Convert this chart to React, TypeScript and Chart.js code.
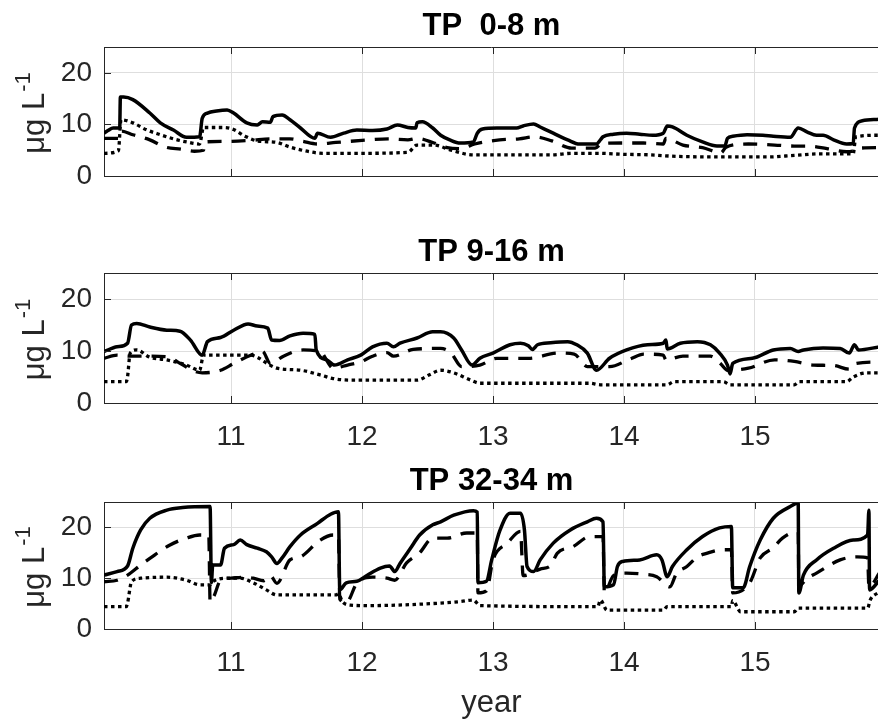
import React, { useEffect, useRef } from 'react';
import { Chart, registerables } from 'chart.js';

Chart.register(...registerables);

// ---------- data ----------
const X_MIN = 10.03;
const X_MAX = 15.947;
const X_TICKS = [11, 12, 13, 14, 15];
const Y_TICKS = [0, 10, 20];
const Y_MAX = 25;
const TITLES = ['TP  0-8 m', 'TP 9-16 m', 'TP 32-34 m'];
const X_LABEL = 'year';
const Y_LABEL_MAIN = '\u03bcg L';
const Y_LABEL_SUP = '-1';

// TP 0-8 m
const p1Solid = [
  [10.03, 8.3], [10.06, 8.8], [10.10, 9.3], [10.15, 9.3], [10.155, 15.3], [10.18, 15.3], [10.25, 14.8],
  [10.38, 12.2], [10.46, 10.3], [10.56, 8.9], [10.66, 7.5], [10.76, 7.6], [10.78, 11.2], [10.82, 12.2],
  [10.89, 12.6], [10.97, 12.8], [11.02, 12.2], [11.12, 10.3], [11.20, 9.9], [11.24, 10.5], [11.30, 10.4],
  [11.32, 11.5], [11.39, 11.8], [11.45, 10.9], [11.53, 9.3], [11.64, 7.3], [11.66, 8.3], [11.76, 7.5],
  [11.86, 8.3], [11.96, 8.9], [12.08, 8.8], [12.19, 9.1], [12.27, 9.9], [12.35, 9.4], [12.41, 9.3],
  [12.42, 10.3], [12.46, 10.5], [12.54, 9.3], [12.60, 7.9], [12.67, 7.0], [12.75, 6.4], [12.85, 6.6],
  [12.88, 8.3], [12.92, 9.1], [13.03, 9.3], [13.18, 9.3], [13.23, 9.7], [13.31, 10.1], [13.36, 9.5],
  [13.46, 8.3], [13.57, 7.0], [13.66, 6.2], [13.79, 6.2], [13.82, 7.0], [13.84, 7.6], [13.92, 8.1],
  [14.02, 8.3], [14.12, 8.1], [14.22, 7.9], [14.30, 8.3], [14.33, 9.7], [14.37, 9.5], [14.48, 7.9],
  [14.60, 6.6], [14.71, 5.8], [14.77, 5.8], [14.79, 7.3], [14.83, 7.7], [14.94, 8.0], [15.06, 7.9],
  [15.14, 7.7], [15.27, 7.5], [15.33, 9.3], [15.40, 8.5], [15.47, 7.9], [15.52, 7.9], [15.60, 7.0],
  [15.70, 6.2], [15.75, 6.3], [15.76, 9.3], [15.82, 10.7], [15.95, 11.0],
];
const p1Dashed = [
  [10.03, 7.3], [10.15, 7.3], [10.16, 8.7], [10.25, 8.0], [10.38, 7.0], [10.50, 5.6], [10.62, 5.2],
  [10.72, 4.8], [10.79, 5.0], [10.80, 6.6], [10.95, 6.7], [11.15, 6.9], [11.30, 7.2], [11.45, 7.2],
  [11.55, 6.7], [11.66, 6.2], [11.80, 6.5], [12.00, 6.9], [12.20, 7.2], [12.35, 7.0], [12.42, 7.3],
  [12.55, 6.4], [12.65, 5.5], [12.75, 5.3], [12.86, 6.2], [13.05, 7.0], [13.20, 7.2], [13.32, 7.6],
  [13.45, 6.8], [13.60, 5.4], [13.78, 5.4], [13.83, 6.3], [14.00, 6.4], [14.15, 6.4], [14.30, 6.2],
  [14.32, 7.3], [14.45, 6.0], [14.60, 5.5], [14.74, 4.5], [14.78, 5.6], [14.95, 6.2], [15.15, 6.0],
  [15.30, 5.8], [15.40, 5.8], [15.55, 5.3], [15.70, 4.7], [15.76, 4.9], [15.80, 5.4], [15.95, 5.5],
];
const p1Dotted = [
  [10.03, 4.4], [10.14, 4.9], [10.16, 10.9], [10.25, 10.3], [10.35, 9.0], [10.46, 8.0], [10.56, 7.2],
  [10.66, 6.6], [10.76, 6.2], [10.79, 9.4], [10.95, 9.4], [11.02, 9.0], [11.10, 7.8], [11.20, 6.8],
  [11.35, 6.5], [11.45, 5.6], [11.60, 4.7], [11.70, 4.4], [12.00, 4.4], [12.35, 4.6], [12.42, 6.0],
  [12.55, 6.0], [12.68, 5.0], [12.85, 4.1], [13.20, 4.1], [13.45, 4.1], [13.60, 4.4], [13.80, 4.4],
  [14.00, 4.2], [14.20, 4.1], [14.40, 3.8], [14.80, 3.7], [15.10, 3.7], [15.30, 4.0], [15.50, 4.3],
  [15.75, 4.3], [15.77, 7.6], [15.95, 7.9],
];

// TP 9-16 m
const p2Solid = [
  [10.03, 9.9], [10.13, 10.8], [10.21, 11.5], [10.24, 15.0], [10.28, 15.3], [10.38, 14.6], [10.51, 14.0],
  [10.61, 13.8], [10.69, 12.1], [10.78, 9.2], [10.82, 11.8], [10.92, 12.6], [11.02, 14.0], [11.13, 15.2],
  [11.20, 14.8], [11.28, 14.4], [11.31, 12.1], [11.37, 12.0], [11.45, 12.9], [11.55, 13.4], [11.64, 13.2],
  [11.65, 10.2], [11.73, 8.3], [11.79, 7.3], [11.89, 8.3], [11.99, 9.2], [12.08, 10.8], [12.19, 11.5],
  [12.24, 10.8], [12.29, 11.5], [12.42, 12.5], [12.54, 13.7], [12.60, 13.7], [12.70, 12.5], [12.76, 10.2],
  [12.84, 7.3], [12.90, 8.6], [13.00, 9.6], [13.13, 11.2], [13.21, 11.5], [13.27, 11.0], [13.30, 10.3],
  [13.34, 11.2], [13.44, 11.6], [13.57, 11.8], [13.64, 11.2], [13.72, 9.6], [13.79, 6.3], [13.89, 8.6],
  [14.02, 10.2], [14.18, 11.2], [14.30, 11.5], [14.32, 12.1], [14.33, 10.4], [14.43, 11.5], [14.56, 11.8],
  [14.66, 11.2], [14.73, 9.6], [14.79, 7.3], [14.81, 5.6], [14.83, 7.6], [14.98, 8.6], [15.14, 10.2],
  [15.27, 10.5], [15.33, 9.9], [15.37, 10.2], [15.52, 10.6], [15.65, 10.5], [15.72, 9.6], [15.76, 11.2],
  [15.79, 10.2], [15.95, 10.8],
];
const p2Dashed = [
  [10.03, 8.6], [10.13, 9.2], [10.22, 9.0], [10.35, 9.0], [10.50, 8.9], [10.62, 7.5], [10.70, 6.3],
  [10.78, 5.8], [10.92, 6.3], [11.02, 7.6], [11.15, 9.2], [11.24, 9.9], [11.30, 7.6], [11.40, 9.0],
  [11.55, 10.2], [11.68, 9.9], [11.78, 6.7], [11.89, 7.3], [11.99, 7.9], [12.08, 9.0], [12.19, 9.7],
  [12.24, 9.0], [12.39, 10.3], [12.60, 10.5], [12.68, 9.6], [12.76, 7.0], [12.90, 7.3], [13.03, 8.6],
  [13.27, 8.6], [13.50, 9.6], [13.62, 9.4], [13.72, 7.0], [13.89, 7.0], [14.05, 8.5], [14.15, 9.4],
  [14.30, 9.2], [14.32, 8.3], [14.45, 9.0], [14.66, 9.0], [14.74, 7.5], [14.79, 6.3], [14.95, 6.7],
  [15.15, 8.3], [15.30, 8.0], [15.45, 7.3], [15.60, 7.2], [15.72, 6.5], [15.77, 7.6], [15.95, 7.9],
];
const p2Dotted = [
  [10.03, 4.1], [10.20, 4.1], [10.21, 5.1], [10.23, 9.6], [10.28, 10.2], [10.38, 8.8], [10.51, 8.3],
  [10.66, 7.3], [10.76, 6.3], [10.79, 9.2], [11.15, 9.2], [11.20, 8.8], [11.27, 7.7], [11.35, 6.7],
  [11.53, 6.3], [11.68, 5.4], [11.78, 4.7], [11.91, 4.4], [12.42, 4.4], [12.52, 5.5], [12.60, 6.3],
  [12.70, 5.8], [12.83, 4.4], [12.90, 3.8], [13.74, 3.8], [13.82, 3.5], [14.33, 3.5], [14.38, 4.1],
  [14.76, 4.1], [14.81, 3.5], [15.30, 3.5], [15.34, 4.1], [15.70, 4.1], [15.75, 5.0], [15.85, 5.8],
  [15.95, 5.8],
];

// TP 32-34 m
const p3Solid = [
  [10.03, 10.6], [10.13, 11.3], [10.21, 12.4], [10.25, 15.9], [10.31, 19.5], [10.38, 21.8], [10.51, 23.4],
  [10.63, 23.9], [10.84, 24.1], [10.85, 9.1], [10.86, 12.6], [10.92, 12.6], [10.95, 15.9], [11.02, 16.6],
  [11.07, 17.5], [11.12, 16.6], [11.20, 15.9], [11.27, 15.2], [11.31, 14.2], [11.35, 12.9], [11.39, 14.0],
  [11.45, 16.2], [11.53, 18.5], [11.66, 20.8], [11.76, 22.6], [11.82, 23.1], [11.83, 7.7], [11.88, 9.1],
  [11.96, 9.4], [12.04, 10.6], [12.14, 12.0], [12.21, 12.4], [12.25, 11.3], [12.29, 12.9], [12.37, 15.9],
  [12.44, 18.5], [12.54, 20.5], [12.60, 21.1], [12.70, 22.4], [12.85, 23.3], [12.88, 23.0], [12.885, 9.1],
  [12.95, 9.4], [12.99, 13.6], [13.05, 19.2], [13.13, 22.8], [13.21, 22.8], [13.24, 19.5], [13.26, 12.3],
  [13.31, 11.3], [13.36, 13.6], [13.46, 16.9], [13.59, 19.5], [13.72, 21.1], [13.79, 21.8], [13.84, 21.1],
  [13.85, 8.3], [13.92, 8.7], [13.95, 12.3], [13.99, 13.3], [14.12, 13.6], [14.25, 14.6], [14.29, 13.6],
  [14.33, 10.3], [14.37, 12.3], [14.48, 15.6], [14.60, 18.2], [14.73, 19.9], [14.82, 20.2], [14.83, 8.1],
  [14.91, 8.1], [14.96, 12.3], [15.04, 17.5], [15.14, 21.8], [15.27, 24.1], [15.33, 24.8], [15.335, 7.1],
  [15.37, 10.6], [15.47, 13.6], [15.60, 15.9], [15.75, 17.5], [15.86, 18.5], [15.87, 23.4], [15.875, 7.7],
  [15.95, 9.6],
];
const p3Dashed = [
  [10.03, 9.3], [10.13, 9.6], [10.21, 10.6], [10.31, 12.6], [10.38, 13.9], [10.53, 16.5], [10.66, 17.9],
  [10.76, 18.5], [10.83, 18.5], [10.84, 5.3], [10.87, 6.5], [10.92, 9.6], [11.00, 10.0], [11.10, 10.2],
  [11.17, 10.0], [11.25, 9.5], [11.30, 10.5], [11.35, 9.0], [11.45, 13.6], [11.53, 14.2], [11.68, 17.5],
  [11.78, 18.5], [11.82, 18.5], [11.83, 5.9], [11.88, 5.2], [11.96, 9.0], [12.08, 10.2], [12.19, 10.0],
  [12.25, 9.6], [12.34, 13.0], [12.44, 15.0], [12.54, 17.9], [12.65, 17.9], [12.80, 18.9], [12.88, 18.9],
  [12.885, 7.1], [12.95, 7.5], [13.00, 13.6], [13.11, 16.9], [13.21, 19.2], [13.23, 10.5], [13.36, 11.8],
  [13.44, 12.5], [13.49, 14.9], [13.61, 16.2], [13.74, 18.2], [13.84, 18.2], [13.85, 7.1], [13.92, 10.5],
  [14.02, 11.0], [14.14, 10.8], [14.25, 10.3], [14.35, 8.3], [14.40, 10.9], [14.48, 12.3], [14.56, 14.2],
  [14.63, 14.9], [14.75, 15.6], [14.82, 15.6], [14.83, 7.1], [14.96, 9.1], [15.04, 14.0], [15.14, 16.0],
  [15.21, 17.9], [15.33, 19.2], [15.335, 8.5], [15.40, 10.0], [15.47, 11.0], [15.65, 13.6], [15.78, 14.2],
  [15.86, 14.0], [15.87, 8.3], [15.95, 11.0],
];
const p3Dotted = [
  [10.03, 4.4], [10.20, 4.4], [10.21, 5.1], [10.24, 9.3], [10.31, 10.0], [10.51, 10.2], [10.66, 9.6],
  [10.76, 8.7], [10.84, 8.7], [10.86, 9.3], [10.97, 10.0], [11.07, 10.0], [11.17, 9.1], [11.27, 7.7],
  [11.35, 6.7], [11.80, 6.7], [11.82, 6.9], [11.85, 5.4], [11.91, 4.7], [12.04, 4.6], [12.60, 5.1],
  [12.75, 5.4], [12.85, 5.7], [12.90, 4.6], [13.80, 4.4], [13.82, 5.7], [13.87, 3.7], [14.30, 3.7],
  [14.33, 4.4], [14.82, 4.4], [14.83, 5.6], [14.89, 3.4], [15.30, 3.4], [15.33, 4.1], [15.86, 4.1],
  [15.88, 5.7], [15.95, 7.3],
];

// ---------- styling / layout ----------
const FONT = '"Liberation Sans", Arial, Helvetica, sans-serif';
const AXIS_COLOR = '#262626';
const GRID_COLOR = '#dedede';
const TICK_FONT_SIZE = 28;
const LABEL_FONT_SIZE = 31;

const PANELS = [
  { title: TITLES[0], top: 0, height: 200, padTop: 47, xAxisH: 24, showX: false, xlabel: '', series: [p1Solid, p1Dashed, p1Dotted] },
  { title: TITLES[1], top: 200, height: 260, padTop: 73, xAxisH: 57, showX: true, xlabel: '', series: [p2Solid, p2Dashed, p2Dotted] },
  { title: TITLES[2], top: 460, height: 259, padTop: 42, xAxisH: 90, showX: true, xlabel: X_LABEL, series: [p3Solid, p3Dashed, p3Dotted] },
];

const DASHES = [[], [14, 10], [3.5, 3.5]];

const framePlugin = {
  id: 'matlabFrame',
  afterDraw(chart: any, _args: any, opts: any) {
    const { ctx, chartArea } = chart;
    const { left, right, top, bottom } = chartArea;
    const xs = chart.scales.x;
    const ys = chart.scales.y;
    ctx.save();
    // top border
    ctx.strokeStyle = AXIS_COLOR;
    ctx.lineWidth = 1;
    ctx.beginPath();
    ctx.moveTo(left, Math.round(top) + 0.5);
    ctx.lineTo(right, Math.round(top) + 0.5);
    // inward tick marks
    const TL = 7;
    X_TICKS.forEach((v) => {
      const px = Math.round(xs.getPixelForValue(v)) + 0.5;
      ctx.moveTo(px, bottom);
      ctx.lineTo(px, bottom - TL);
      ctx.moveTo(px, top);
      ctx.lineTo(px, top + TL);
    });
    Y_TICKS.forEach((v) => {
      const py = Math.round(ys.getPixelForValue(v)) + 0.5;
      ctx.moveTo(left, py);
      ctx.lineTo(left + TL, py);
    });
    ctx.stroke();

    // title
    const cx = (left + right) / 2;
    ctx.fillStyle = '#000';
    ctx.font = `bold ${LABEL_FONT_SIZE}px ${FONT}`;
    ctx.textAlign = 'center';
    ctx.textBaseline = 'alphabetic';
    ctx.fillText(opts.title, cx, top - 12.5);

    // y label (rotated, with superscript)
    const cy = (top + bottom) / 2 + 2;
    ctx.save();
    ctx.translate(44, cy);
    ctx.rotate(-Math.PI / 2);
    ctx.fillStyle = AXIS_COLOR;
    const mainFont = `${LABEL_FONT_SIZE}px ${FONT}`;
    const supFont = `${Math.round(LABEL_FONT_SIZE * 0.72)}px ${FONT}`;
    ctx.font = mainFont;
    const w1 = ctx.measureText(Y_LABEL_MAIN).width;
    ctx.font = supFont;
    const w2 = ctx.measureText(Y_LABEL_SUP).width;
    const start = -(w1 + w2) / 2;
    ctx.textAlign = 'left';
    ctx.font = mainFont;
    ctx.fillText(Y_LABEL_MAIN, start, 0);
    ctx.font = supFont;
    ctx.fillText(Y_LABEL_SUP, start + w1 + 1, -14);
    ctx.restore();

    // x label
    if (opts.xlabel) {
      ctx.fillStyle = AXIS_COLOR;
      ctx.font = `${LABEL_FONT_SIZE}px ${FONT}`;
      ctx.textAlign = 'center';
      ctx.fillText(opts.xlabel, cx, bottom + 83);
    }
    ctx.restore();
  },
};

function Panel({ cfg }: { cfg: any }) {
  const ref = useRef<HTMLCanvasElement | null>(null);
  useEffect(() => {
    const canvas = ref.current;
    if (!canvas) return;
    const chart = new Chart(canvas, {
      type: 'line',
      data: {
        datasets: cfg.series.map((s: number[][], i: number) => ({
          data: s.map(([x, y]) => ({ x, y })),
          borderColor: '#000',
          borderWidth: i === 0 ? 3.5 : 3.3,
          borderDash: DASHES[i],
          borderCapStyle: 'butt',
          borderJoinStyle: 'round',
          pointRadius: 0,
          cubicInterpolationMode: 'monotone',
          fill: false,
        })),
      },
      options: {
        animation: false,
        responsive: false,
        maintainAspectRatio: false,
        devicePixelRatio: 1,
        events: [],
        layout: { padding: { top: cfg.padTop, right: 1, left: 0, bottom: 0 } },
        plugins: {
          legend: { display: false },
          tooltip: { enabled: false },
          title: { display: false },
          matlabFrame: { title: cfg.title, xlabel: cfg.xlabel },
        } as any,
        scales: {
          x: {
            type: 'linear',
            min: X_MIN,
            max: X_MAX,
            afterBuildTicks: (s: any) => { s.ticks = X_TICKS.map((v) => ({ value: v })); },
            afterFit: (s: any) => { s.height = cfg.xAxisH; s.paddingLeft = 0; s.paddingRight = 0; },
            grid: { color: GRID_COLOR, drawTicks: false, lineWidth: 1 },
            border: { display: true, color: AXIS_COLOR, width: 1 },
            ticks: {
              display: cfg.showX,
              padding: 17,
              maxRotation: 0,
              autoSkip: false,
              color: AXIS_COLOR,
              font: { family: FONT, size: TICK_FONT_SIZE },
              callback: (v: any) => String(v),
            },
          },
          y: {
            type: 'linear',
            min: 0,
            max: Y_MAX,
            afterBuildTicks: (s: any) => { s.ticks = Y_TICKS.map((v) => ({ value: v })); },
            afterFit: (s: any) => { s.width = 104; s.paddingTop = 0; s.paddingBottom = 0; },
            grid: { color: GRID_COLOR, drawTicks: false, lineWidth: 1 },
            border: { display: true, color: AXIS_COLOR, width: 1 },
            ticks: {
              padding: 12,
              color: AXIS_COLOR,
              font: { family: FONT, size: TICK_FONT_SIZE },
              callback: (v: any) => String(v),
            },
          },
        },
      } as any,
      plugins: [framePlugin],
    });
    return () => chart.destroy();
  }, [cfg]);
  return (
    <canvas
      ref={ref}
      width={880}
      height={cfg.height}
      style={{ position: 'absolute', left: 0, top: cfg.top, width: 880, height: cfg.height, display: 'block' }}
    />
  );
}

export default function App() {
  return (
    <div
      style={{
        position: 'absolute',
        left: 0,
        top: 0,
        width: 878,
        height: 719,
        overflow: 'hidden',
        background: '#fff',
      }}
    >
      {PANELS.map((p, i) => (
        <Panel key={i} cfg={p} />
      ))}
    </div>
  );
}
